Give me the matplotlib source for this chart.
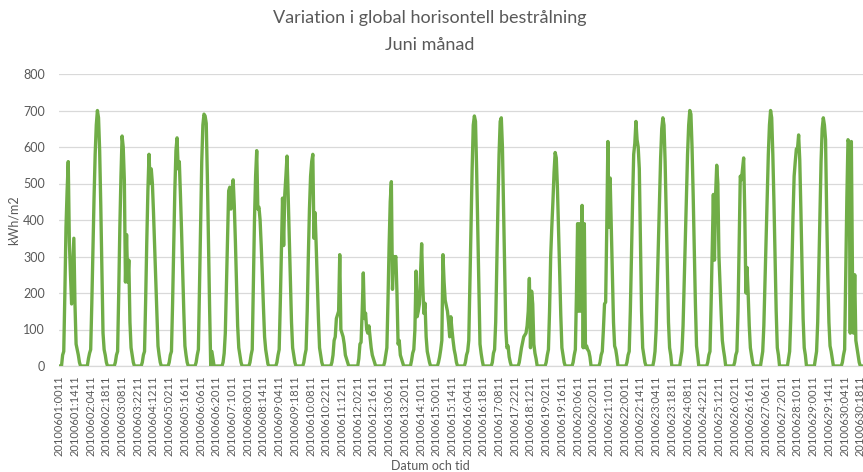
import matplotlib
matplotlib.use("Agg")
import matplotlib.pyplot as plt
import numpy as np

plt.rcParams['font.family'] = ['Lato', 'DejaVu Sans']

title_line1 = "Variation i global horisontell bestrålning"
title_line2 = "Juni månad"
y_label = "kWh/m2"
x_label = "Datum och tid"
y_ticks = [0, 100, 200, 300, 400, 500, 600, 700, 800]

# hourly values (h00..h23) per day, June 2010
d01 = [0,0,0,30,40,200,380,480,560,340,250,170,260,350,170,60,45,30,10,0,0,0,0,0]
d02 = [0,0,20,35,45,170,320,460,580,660,700,680,590,440,260,90,45,30,10,0,0,0,0,0]
d03 = [0,0,10,30,40,200,380,520,630,600,510,230,360,230,290,120,50,30,10,0,0,0,0,0]
d04 = [0,0,10,30,40,180,340,480,580,500,540,500,420,330,240,150,55,30,10,0,0,0,0,0]
d05 = [0,0,10,30,40,170,330,480,590,625,540,560,470,370,260,150,55,30,10,0,0,0,0,0]
d06 = [0,0,10,30,45,220,400,560,660,690,685,665,520,340,160,0,40,20,0,0,0,0,0,0]
d07 = [0,0,10,35,90,220,350,480,490,430,470,510,440,340,220,110,50,30,10,0,0,0,0,0]
d08 = [0,0,10,30,45,220,400,520,590,430,435,400,330,250,160,80,45,25,5,0,0,0,0,0]
d09 = [0,0,10,30,45,170,320,460,330,470,520,575,470,350,230,120,50,30,10,0,0,0,0,0]
d10 = [0,0,10,30,45,150,300,430,520,560,580,350,420,330,230,130,50,30,10,0,0,0,0,0]
d11 = [0,0,0,10,30,70,80,130,140,150,305,100,90,80,60,30,20,10,0,0,0,0,0,0]
d12 = [0,0,0,20,60,65,150,255,130,145,100,90,110,80,50,30,20,10,0,0,0,0,0,0]
d13 = [0,0,10,30,50,180,330,450,505,210,300,290,300,200,60,70,30,20,10,0,0,0,0,0]
d14 = [0,0,15,35,45,100,260,135,150,170,250,335,220,144,172,80,40,25,10,0,0,0,0,0]
d15 = [0,0,10,25,45,70,305,230,180,165,150,120,80,135,100,70,45,30,10,0,0,0,0,0]
d16 = [0,0,10,30,40,70,220,380,540,660,685,670,540,380,210,60,35,15,0,0,0,0,0,0]
d17 = [0,0,10,35,45,120,280,440,580,670,680,600,430,260,100,50,55,25,10,0,0,0,0,0]
d18 = [0,0,10,30,50,65,80,85,90,110,150,240,50,205,170,60,35,20,0,0,0,0,0,0]
d19 = [0,0,10,30,45,150,300,380,450,530,585,570,490,380,260,140,50,30,10,0,0,0,0,0]
d20 = [0,0,10,30,45,200,390,150,390,150,440,50,390,50,55,45,40,25,0,0,0,0,0,0]
d21 = [0,0,10,30,40,100,170,175,380,615,380,515,380,250,120,55,45,25,0,0,0,0,0,0]
d22 = [0,0,10,30,40,150,300,450,580,610,670,620,600,540,350,150,50,30,10,0,0,0,0,0]
d23 = [0,0,15,40,100,220,350,470,570,650,680,660,560,420,270,120,50,30,0,0,0,0,0,0]
d24 = [0,0,20,40,110,230,360,480,580,660,700,690,600,470,320,170,55,30,0,0,0,0,0,0]
d25 = [0,0,10,30,40,170,320,470,290,470,550,500,300,220,140,70,45,25,0,0,0,0,0,0]
d26 = [0,0,10,30,40,150,330,520,510,540,570,420,200,270,200,110,50,30,10,0,0,0,0,0]
d27 = [0,0,20,40,110,230,360,480,580,660,700,680,580,450,300,150,50,30,0,0,0,0,0,0]
d28 = [0,0,20,40,130,270,410,520,560,595,595,633,565,430,280,130,50,30,0,0,0,0,0,0]
d29 = [0,0,20,40,120,270,420,560,650,680,660,620,420,250,120,55,40,20,0,0,0,0,0,0]
d30 = [0,0,10,30,45,250,460,620,610,90,615,250,90,250,70,50,30,10,0,0,0,0,0,0]

days = [d01, d02, d03, d04, d05, d06, d07, d08, d09, d10,
        d11, d12, d13, d14, d15, d16, d17, d18, d19, d20,
        d21, d22, d23, d24, d25, d26, d27, d28, d29, d30]
values = np.concatenate([np.array(d, dtype=float) for d in days])
n = len(values)
categories = [f"201006{i // 24 + 1:02d}:{i % 24:02d}11" for i in range(n)]
label_step = 14

W, H = 863, 472
fig = plt.figure(figsize=(W / 100, H / 100), dpi=100)
left = 58.7 / W
right = 866.5 / W
bottom = 1 - 366 / H
top = 1 - 74 / H
ax = fig.add_axes([left, bottom, right - left, top - bottom])

gray = "#595959"
grid = "#D9D9D9"
green = "#70AD47"

x = np.arange(n)
ax.plot(x, values, color=green, lw=2.4, solid_joinstyle='round', zorder=3)

ax.set_xlim(-0.5, n - 0.5)
ax.set_ylim(0, 800)
ax.set_yticks(y_ticks)
ax.yaxis.grid(True, color=grid, lw=0.9)
ax.set_axisbelow(True)
for s in ['top', 'right', 'left']:
    ax.spines[s].set_visible(False)
ax.spines['bottom'].set_color(grid)
ax.spines['bottom'].set_linewidth(0.9)

tick_pos = list(range(0, n, label_step))
ax.set_xticks(tick_pos)
ax.set_xticklabels([categories[i] for i in tick_pos], rotation=90, fontsize=8, color=gray)
ax.tick_params(axis='x', length=0, pad=7)
ax.tick_params(axis='y', length=0, pad=10, labelsize=9, labelcolor=gray)

fig.text(430 / W, 1 - 18 / H, title_line1, ha='center', va='center', fontsize=13, color=gray)
fig.text(430 / W, 1 - 45 / H, title_line2, ha='center', va='center', fontsize=13, color=gray)
fig.text(14 / W, 1 - 220 / H, y_label, rotation=90, ha='center', va='center', fontsize=9, color=gray)
fig.text(430 / W, 1 - 466 / H, x_label, ha='center', va='center', fontsize=9, color=gray)

fig.savefig("out.png", dpi=100)
